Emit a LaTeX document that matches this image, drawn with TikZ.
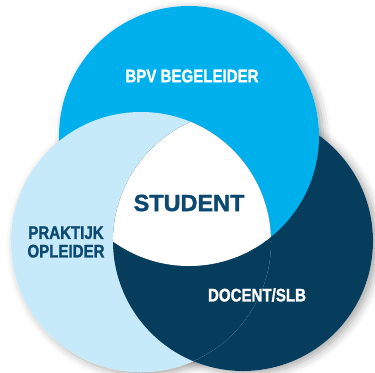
\documentclass[tikz,border=0pt]{standalone}
\usepackage{fontspec}
\setmainfont{Liberation Sans}[BoldFeatures={FakeBold=1.6}]
\newfontfamily\rolfont{Liberation Sans}[FakeStretch=0.83, BoldFeatures={FakeBold=1.3}]
\usetikzlibrary{shadows.blur}
\definecolor{bpvblue}{RGB}{0,176,236}
\definecolor{praklight}{RGB}{198,234,250}
\definecolor{docdark}{RGB}{6,61,92}
\definecolor{textnavy}{RGB}{12,72,112}
\tikzstyle{ring} = [circle, minimum size=7.8cm, inner sep=0pt]
\tikzstyle{ringshadow} = [fill=white, blur shadow={shadow xshift=0.12cm, shadow yshift=-0.08cm, shadow blur radius=0.25cm, shadow opacity=35}]
\tikzstyle{roltext} = [font=\rolfont\bfseries\fontsize{15.5}{16}\selectfont, align=center, inner sep=0pt]

\begin{document}
\begin{tikzpicture}[x=0.03cm,y=-0.03cm]

\useasboundingbox (0,0) rectangle (375,372);

\path[ringshadow] (243,241) circle[radius=3.9cm];
\path[ringshadow] (189,136) circle[radius=3.9cm];
\path[ringshadow] (141,242) circle[radius=3.9cm];

\node[ring, fill=docdark](doc) at (243,241) {};
\node[ring, fill=bpvblue](bpv) at (189,136) {};
\node[ring, fill=praklight](prak) at (141,242) {};

% docent over praktijk
\begin{scope}
\clip (doc.center) circle[radius=3.9cm];
\fill[docdark] (prak.center) circle[radius=3.9cm];
\end{scope}
% student in the middle
\begin{scope}
\clip (doc.center) circle[radius=3.9cm];
\clip (prak.center) circle[radius=3.9cm];
\fill[white] (bpv.center) circle[radius=3.9cm];
\end{scope}

\node[roltext, text=white](bpvtext) at (192,76) {BPV BEGELEIDER};
\node[font=\bfseries\fontsize{20}{22}\selectfont, text=textnavy, inner sep=0pt](student) at (189,203) {STUDENT};
\node[roltext, text=textnavy, font=\rolfont\bfseries\fontsize{15.5}{15.8}\selectfont](praktext) at (66,242) {PRAKTIJK\\OPLEIDER};
\node[roltext, text=white](doctext) at (257,295) {DOCENT/SLB};

\end{tikzpicture}
\end{document}
